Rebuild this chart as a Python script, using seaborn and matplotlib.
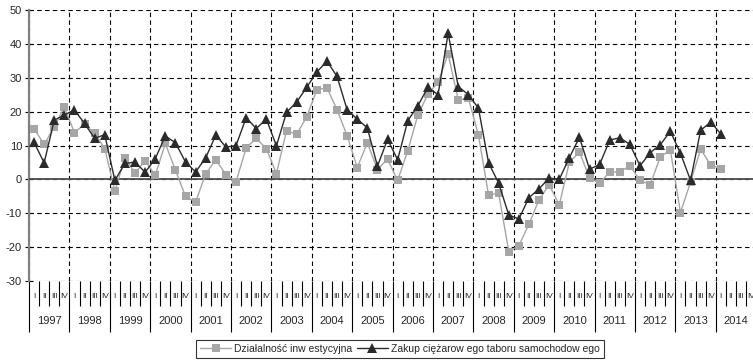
import matplotlib
matplotlib.use("Agg")
import matplotlib.pyplot as plt
import numpy as np
import pandas as pd
import seaborn as sns

# Quarterly dynamics 1997 Q1 - 2014 Q1 (%)
years = [str(y) for y in range(1997, 2015)]
quarters = ["I", "II", "III", "IV"]

inwestycyjna = [
    15.0, 10.3, 15.5, 21.3,
    13.8, 16.3, 13.6, 9.1,
    -3.5, 6.4, 1.9, 5.4,
    1.2, 10.6, 2.7, -5.0,
    -6.7, 1.7, 5.8, 1.4,
    -0.7, 9.3, 12.1, 9.1,
    1.7, 14.4, 13.3, 18.5,
    26.4, 27.1, 20.5, 12.9,
    3.5, 10.8, 2.9, 6.0,
    -0.3, 8.4, 19.0, 25.2,
    28.6, 37.0, 23.5, 24.0,
    13.1, -4.6, -4.1, -21.3,
    -19.6, -13.2, -6.0, -1.6,
    -7.5, 5.0, 8.1, 0.4,
    -1.1, 2.2, 2.2, 4.0,
    -0.3, -1.6, 6.6, 8.7,
    -9.8, -0.8, 8.9, 4.2,
    3.2,
]

ciezarowe = [
    10.9, 4.9, 17.5, 19.0,
    20.5, 16.5, 12.1, 13.2,
    -0.3, 4.7, 5.1, 2.1,
    6.1, 12.8, 10.8, 5.1,
    2.2, 6.4, 13.1, 9.5,
    10.0, 18.2, 15.0, 17.8,
    9.9, 19.8, 22.8, 27.2,
    31.7, 34.9, 30.4, 20.5,
    17.8, 15.2, 3.9, 11.8,
    5.8, 17.3, 21.7, 27.2,
    25.0, 43.1, 27.4, 25.0,
    21.0, 4.9, -1.1, -10.5,
    -11.7, -5.4, -2.8, 0.4,
    0.0, 6.4, 12.4, 3.0,
    4.4, 11.6, 12.3, 10.3,
    4.0, 7.9, 10.2, 14.2,
    7.7, -0.3, 14.5, 16.9,
    13.4,
]

label_inw = "Działalność inw estycyjna"
label_cz = "Zakup ciężarow ego taboru samochodow ego"

sns.set_style("white")
plt.rcParams["font.family"] = ["Liberation Sans", "DejaVu Sans"]
plt.rcParams["axes.unicode_minus"] = False

W, H = 753, 362
fig = plt.figure(figsize=(W / 100, H / 100), dpi=100)
ax_left, ax_top, ax_bottom = 29, 10, 281
ax_width = 40.4 * len(years)
ax = fig.add_axes([ax_left / W, 1 - ax_bottom / H, ax_width / W, (ax_bottom - ax_top) / H])

n = len(inwestycyjna)
df = pd.DataFrame({
    "kw": np.arange(n),
    "inw": inwestycyjna,
    "cz": ciezarowe,
})

grey = "#a6a6a6"
dark = "#2b2b2b"

sns.lineplot(data=df, x="kw", y="inw", ax=ax, color=grey, lw=1.0,
             marker="s", markersize=5.5, markeredgewidth=0,
             markerfacecolor=grey, label=label_inw, zorder=4)
sns.lineplot(data=df, x="kw", y="cz", ax=ax, color=dark, lw=1.0,
             marker="^", markersize=6.8, markeredgewidth=0,
             markerfacecolor=dark, label=label_cz, zorder=5)

nq = 4 * len(years)
ax.set_xlim(-0.5, nq - 0.5)
ax.set_ylim(-30, 50)
ax.set_xlabel("")
ax.set_ylabel("")

# horizontal dashed grid, solid zero line
ax.set_yticks(range(-30, 51, 10))
ax.yaxis.grid(True, linestyle=(0, (4, 3)), color="black", lw=0.8)
ax.axhline(0, color="#4d4d4d", lw=1.3, zorder=3)

# year boundaries: dashed verticals in the plot, long ticks below
ax.set_xticks(np.arange(-0.5, nq, 4))
ax.set_xticks(np.arange(-0.5, nq, 1), minor=True)
ax.xaxis.grid(True, which="major", linestyle=(0, (4, 3)), color="black", lw=0.8)
ax.tick_params(axis="x", which="major", direction="out", length=37, width=0.8,
               color="black", labelbottom=False, bottom=True)
ax.tick_params(axis="x", which="minor", direction="out", length=18, width=0.8,
               color="black", labelbottom=False, bottom=True)
ax.tick_params(axis="y", direction="inout", length=6, width=0.8, color="black",
               labelsize=8, pad=2, left=True)

for s in ["top", "right", "bottom"]:
    ax.spines[s].set_visible(False)
ax.spines["left"].set_color("#808080")
ax.spines["left"].set_linewidth(1.6)

# quarter and year labels of the category axis
trans = ax.get_xaxis_transform()
span = ax_bottom - ax_top
for k in range(nq):
    ax.text(k, -16 / span, quarters[k % 4], transform=trans, ha="center",
            va="center", fontsize=6, clip_on=False)
for j, yr in enumerate(years):
    ax.text(4 * j + 1.5, -40 / span, yr, transform=trans, ha="center",
            va="center", fontsize=8, clip_on=False)

ax.get_legend().remove()
handles, labels = ax.get_legend_handles_labels()
leg = fig.legend(handles, labels, loc="center", bbox_to_anchor=(400 / W, 1 - 349 / H),
                 ncol=2, fontsize=7.5, frameon=True, fancybox=False,
                 edgecolor="black", handlelength=3.0, handletextpad=0.3,
                 columnspacing=0.4, borderpad=0.35, borderaxespad=0)
leg.get_frame().set_linewidth(0.8)

fig.savefig("out.png", dpi=100)
